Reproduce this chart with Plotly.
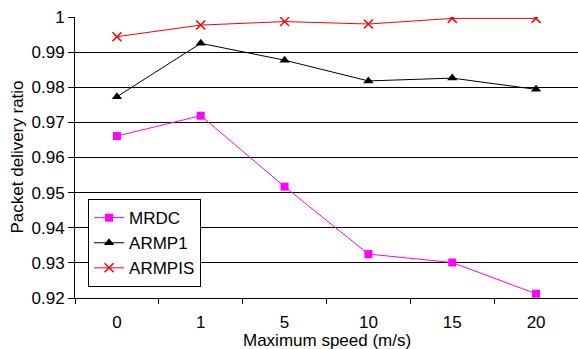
import plotly.graph_objects as go

speeds = ["0", "1", "5", "10", "15", "20"]
mrdc = [0.9661, 0.9719, 0.9517, 0.9325, 0.9301, 0.9212]
armp1 = [0.9773, 0.9925, 0.9877, 0.9818, 0.9826, 0.9794]
armpis = [0.9944, 0.9977, 0.9987, 0.9980, 0.9996, 0.9996]
ytick_vals = [0.92, 0.93, 0.94, 0.95, 0.96, 0.97, 0.98, 0.99, 1.0]
ytick_text = ["0.92", "0.93", "0.94", "0.95", "0.96", "0.97", "0.98", "0.99", "1"]

FONT = "Liberation Sans, Arial, sans-serif"

fig = go.Figure()
fig.add_trace(go.Scatter(x=speeds, y=mrdc, name="MRDC", mode="lines+markers",
                         line=dict(color="#ff00ff", width=1),
                         marker=dict(symbol="square", size=8, color="#ff00ff")))
fig.add_trace(go.Scatter(x=speeds, y=armp1, name="ARMP1", mode="lines+markers",
                         line=dict(color="#000000", width=1),
                         marker=dict(symbol="triangle-up", size=9, color="#000000")))
fig.add_trace(go.Scatter(x=speeds, y=armpis, name="ARMPIS", mode="lines+markers",
                         line=dict(color="#ff0000", width=1),
                         marker=dict(symbol="x-thin", size=9, color="#ff0000",
                                     line=dict(color="#ff0000", width=1.5))))

fig.update_layout(
    width=578, height=349,
    margin=dict(l=75, r=0, t=17, b=51),
    paper_bgcolor="white", plot_bgcolor="white",
    font=dict(family=FONT, size=17, color="black"),
    showlegend=True,
    legend=dict(x=0.026, y=0.352, xanchor="left", yanchor="top",
                bgcolor="white", bordercolor="black", borderwidth=1,
                font=dict(family=FONT, size=17, color="black"),
                itemwidth=30, traceorder="normal"),
    xaxis=dict(type="category", range=[-0.5, 5.5], showgrid=False,
               showline=True, linecolor="black", linewidth=1,
               ticks="outside", tickson="boundaries", ticklen=5, tickcolor="black",
               ticklabelstandoff=9, zeroline=False),
    yaxis=dict(range=[0.92, 1.0], tickvals=ytick_vals, ticktext=ytick_text,
               showgrid=True, gridcolor="black", gridwidth=1,
               showline=True, linecolor="black", linewidth=1,
               ticks="outside", ticklen=6, tickcolor="black", zeroline=False),
    annotations=[
        dict(text="Maximum speed (m/s)", xref="paper", yref="paper",
             x=0.5, y=-0.152, showarrow=False,
             xanchor="center", yanchor="middle", font=dict(size=17)),
        dict(text="Packet delivery ratio", xref="paper", yref="paper",
             x=-0.1153, y=0.5, textangle=-90, showarrow=False,
             xanchor="center", yanchor="middle", font=dict(size=17)),
    ],
)

fig.write_html("out.html")
